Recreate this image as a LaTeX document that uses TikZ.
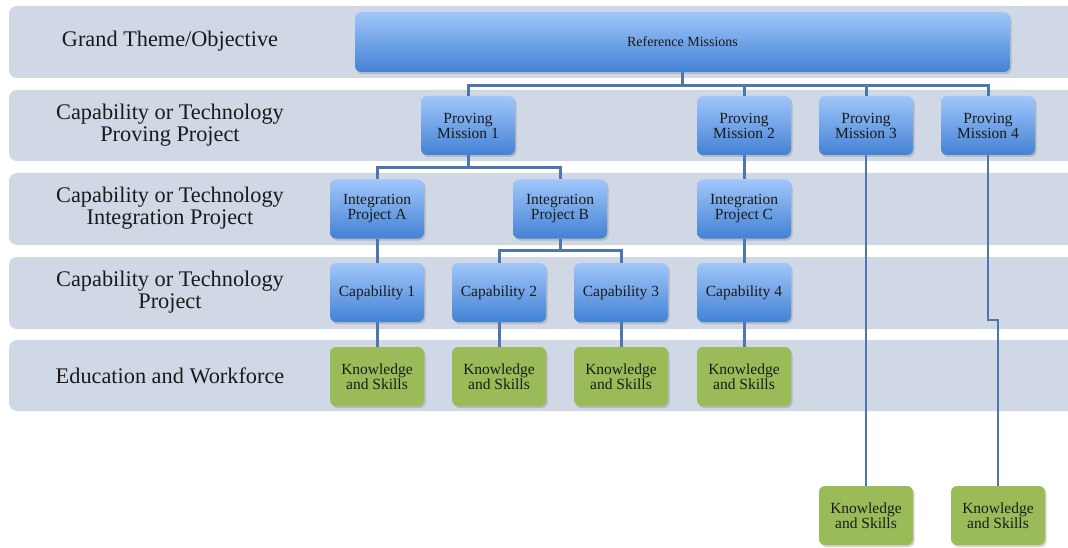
\documentclass[tikz,border=0pt]{standalone}
\usepackage{fontspec}
\setmainfont{Liberation Serif}
\usetikzlibrary{shadows}

\definecolor{bandfill}{HTML}{D0D8E6}
\definecolor{linkblue}{HTML}{4D77AD}
\definecolor{boxtop}{HTML}{A0C6FA}
\definecolor{boxbottom}{HTML}{4382D4}
\definecolor{skillgreen}{HTML}{9BBB59}
\definecolor{inktext}{HTML}{1A1A1A}

\tikzset{
  band/.style={fill=bandfill},
  rowlabel/.style={align=center, text=inktext,
    font=\fontsize{22.3}{22}\selectfont, inner sep=0pt},
  bluebox/.style={rounded corners=6pt, top color=boxtop, bottom color=boxbottom,
    minimum width=94pt, minimum height=59pt, inner sep=0pt, align=center,
    text=inktext, font=\fontsize{15.5}{15}\selectfont,
    drop shadow={shadow xshift=1.5pt, shadow yshift=-2pt, opacity=0.35}},
  greenbox/.style={rounded corners=6pt, fill=skillgreen,
    minimum width=94pt, minimum height=59pt, inner sep=0pt, align=center,
    text=inktext, font=\fontsize{15.5}{15}\selectfont,
    drop shadow={shadow xshift=1.5pt, shadow yshift=-2pt, opacity=0.35}},
  link/.style={draw=linkblue, line width=3pt},
  thinlink/.style={draw=linkblue, line width=2pt}
}

\begin{document}
\begin{tikzpicture}[x=1pt, y=-1pt]
\useasboundingbox (0,0) rectangle (1068,548);

% level bands, open to the right edge
\begin{scope}
  \clip (0,0) rectangle (1068,548);
  \fill[band, rounded corners=8pt] (9,6)   rectangle (1090,78);
  \fill[band, rounded corners=8pt] (9,90)  rectangle (1090,161);
  \fill[band, rounded corners=8pt] (9,173) rectangle (1090,245);
  \fill[band, rounded corners=8pt] (9,257) rectangle (1090,329);
  \fill[band, rounded corners=8pt] (9,340) rectangle (1090,411);
\end{scope}

% level labels
\node[rowlabel] (l1) at (170,41)    {Grand Theme/Objective};
\node[rowlabel] (l2) at (170,125)   {Capability or Technology\\Proving Project};
\node[rowlabel] (l3) at (170,208.5) {Capability or Technology\\Integration Project};
\node[rowlabel] (l4) at (170,292)   {Capability or Technology\\Project};
\node[rowlabel] (l5) at (170,375.5) {Education and Workforce};

% theme
\node[bluebox, minimum width=655pt, minimum height=60pt,
      font=\fontsize{14}{15}\selectfont] (rm) at (682.5,42) {Reference Missions};

% proving missions
\node[bluebox] (pm1) at (468,125.5) {Proving\\Mission 1};
\node[bluebox] (pm2) at (744,125.5) {Proving\\Mission 2};
\node[bluebox] (pm3) at (866,125.5) {Proving\\Mission 3};
\node[bluebox] (pm4) at (988,125.5) {Proving\\Mission 4};

% integration projects
\node[bluebox] (ipa) at (377,209) {Integration\\Project A};
\node[bluebox] (ipb) at (560,209) {Integration\\Project B};
\node[bluebox] (ipc) at (744,209) {Integration\\Project C};

% capabilities
\node[bluebox] (c1) at (377,292.5) {Capability 1};
\node[bluebox] (c2) at (499,292.5) {Capability 2};
\node[bluebox] (c3) at (621,292.5) {Capability 3};
\node[bluebox] (c4) at (744,292.5) {Capability 4};

% knowledge and skills
\node[greenbox] (k1) at (377,376.5) {Knowledge\\and Skills};
\node[greenbox] (k2) at (499,376.5) {Knowledge\\and Skills};
\node[greenbox] (k3) at (621,376.5) {Knowledge\\and Skills};
\node[greenbox] (k4) at (744,376.5) {Knowledge\\and Skills};
\node[greenbox] (k5) at (866,515.5) {Knowledge\\and Skills};
\node[greenbox] (k6) at (998,515.5) {Knowledge\\and Skills};

% connectors
\draw[link] (rm.south) -- ++(0,13) -| (pm1.north);
\draw[link] (rm.south) -- ++(0,13) -| (pm2.north);
\draw[link] (rm.south) -- ++(0,13) -| (pm3.north);
\draw[link] (rm.south) -- ++(0,13) -| (pm4.north);

\draw[link] (pm1.south) -- ++(0,12) -| (ipa.north);
\draw[link] (pm1.south) -- ++(0,12) -| (ipb.north);
\draw[link] (pm2.south) -- (ipc.north);

\draw[link] (ipa.south) -- (c1.north);
\draw[link] (ipb.south) -- ++(0,12) -| (c2.north);
\draw[link] (ipb.south) -- ++(0,12) -| (c3.north);
\draw[link] (ipc.south) -- (c4.north);

\draw[link] (c1.south) -- (k1.north);
\draw[link] (c2.south) -- (k2.north);
\draw[link] (c3.south) -- (k3.north);
\draw[link] (c4.south) -- (k4.north);

% long drops to the outlying skill boxes
\coordinate (jog) at (988,320);
\draw[thinlink] (pm3.south) -- (k5.north);
\draw[thinlink] (pm4.south) -- (jog) -| (k6.north);
\end{tikzpicture}
\end{document}
